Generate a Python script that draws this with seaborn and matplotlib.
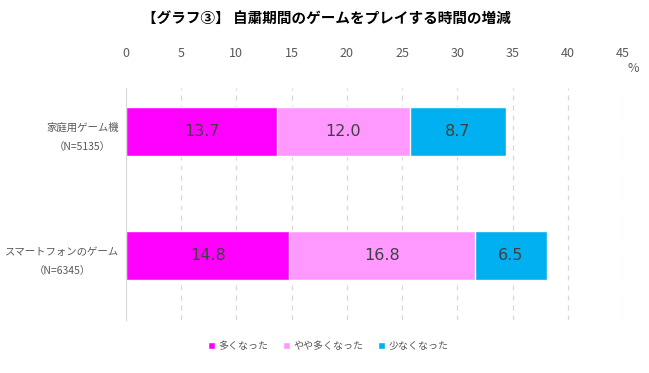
import matplotlib
matplotlib.use('Agg')
import matplotlib.pyplot as plt
import seaborn as sns
import pandas as pd
import numpy as np
from matplotlib.patches import Patch

# データ
categories = ['家庭用ゲーム機\n（N=5135）', 'スマートフォンのゲーム\n（N=6345）']
series_names = ['多くなった', 'やや多くなった', '少なくなった']
more = [13.7, 14.8]
slightly_more = [12.0, 16.8]
less = [8.7, 6.5]
colors = ['#FF00FF', '#FF99FF', '#00B0F0']

sns.set_style('white')
plt.rcParams['font.family'] = ['Noto Sans CJK JP', 'DejaVu Sans']

vals = np.array([more, slightly_more, less])
cum = vals.cumsum(axis=0)

fig = plt.figure(figsize=(6.49, 3.73), dpi=100)
ax = fig.add_axes([0.194, 0.142, 0.766, 0.622])

# 積み上げ: 合計の大きい方から描く
for i in range(2, -1, -1):
    df = pd.DataFrame({'cat': categories, 'val': cum[i]})
    sns.barplot(data=df, x='val', y='cat', orient='h', color=colors[i],
                width=0.39, saturation=1, ax=ax)

# 値ラベル
for i in range(3):
    starts = cum[i] - vals[i]
    for j in range(2):
        ax.text(starts[j] + vals[i][j] / 2, j, f'{vals[i][j]:.1f}',
                ha='center', va='center', fontsize=11.5, color='#404040',
                family='DejaVu Sans')

ax.set_xlim(0, 45)
ax.set_ylim(1.52, -0.35)
ax.set_xticks(range(0, 46, 5))
ax.xaxis.tick_top()
ax.tick_params(axis='x', length=0, labelsize=9, colors='#595959', pad=20)
ax.tick_params(axis='y', length=0, labelsize=7.5, colors='#595959', pad=5)
for lbl in ax.get_yticklabels():
    lbl.set_multialignment('center')
    lbl.set_linespacing(2.2)
ax.set_xlabel('')
ax.set_ylabel('')
ax.grid(axis='x', linestyle=(0, (4, 4)), color='#d9d9d9', linewidth=0.9)
ax.set_axisbelow(True)
for s in ['top', 'right', 'bottom']:
    ax.spines[s].set_visible(False)
ax.spines['left'].set_color('#d9d9d9')

fig.text(633 / 649, 1 - 68 / 373, '%', ha='center', va='center',
         fontsize=9, color='#595959')

fig.suptitle('【グラフ③】 自粛期間のゲームをプレイする時間の増減',
             x=0.503, y=1 - 18 / 373, va='center', fontsize=10.5,
             fontweight='bold', color='#000000')

handles = [Patch(facecolor=c, label=n) for c, n in zip(colors, series_names)]
fig.legend(handles=handles, loc='center', bbox_to_anchor=(0.506, 1 - 346 / 373),
           ncol=3, frameon=False, fontsize=7.2, handlelength=0.7, handleheight=0.7,
           handletextpad=0.3, columnspacing=1.5, labelcolor='#595959')

fig.savefig('out.png', dpi=100)
